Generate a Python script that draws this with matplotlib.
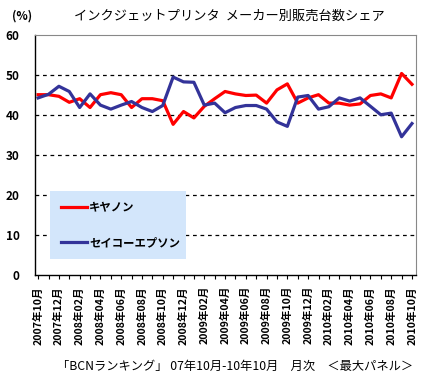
import matplotlib.pyplot as plt

plt.rcParams['font.family'] = ['Noto Sans CJK JP', 'DejaVu Sans']

# months 2007/10 .. 2010/10
months = []
for y in range(2007, 2011):
    for m in range(1, 13):
        if (y, m) >= (2007, 10) and (y, m) <= (2010, 10):
            months.append(f"{y}年{m:02d}月")

canon = [45.0, 45.0, 44.6, 43.1, 44.0, 41.8, 45.0, 45.5, 45.0, 41.8,
         44.0, 44.0, 43.5, 37.6, 40.8, 39.2, 42.1, 44.0, 45.8, 45.2,
         44.8, 44.9, 42.9, 46.2, 47.7, 42.9, 44.2, 45.0, 42.9, 42.9,
         42.4, 42.7, 44.8, 45.2, 44.2, 50.3, 47.6]
epson = [44.2, 45.1, 47.1, 45.8, 41.8, 45.2, 42.4, 41.4, 42.4, 43.3,
         41.8, 40.8, 42.3, 49.4, 48.2, 48.1, 42.4, 42.9, 40.5, 41.8,
         42.3, 42.3, 41.4, 38.2, 37.1, 44.4, 44.8, 41.4, 42.0, 44.2,
         43.4, 44.2, 42.1, 40.0, 40.4, 34.5, 37.8]
series_names = ['キヤノン', 'セイコーエプソン']

fig = plt.figure(figsize=(4.46, 3.76), dpi=100)
ax = fig.add_axes([0.0785, 0.2686, 0.8545, 0.6394])

x = list(range(len(months)))
ax.plot(x, canon, color='#FF0000', lw=2.3, label=series_names[0])
ax.plot(x, epson, color='#333399', lw=2.3, label=series_names[1])

ax.set_xlim(-0.3, len(months) - 1 + 0.4)
ax.set_ylim(0, 60)
ax.set_yticks(range(0, 61, 10))
for v in range(10, 60, 10):
    ax.axhline(v, color='black', lw=0.9, ls=(0, (3, 3)), zorder=0)

ax.set_xticks(x, minor=True)
ax.set_xticks(x[::2])
ax.set_xticklabels(months[::2], rotation=90, fontsize=7.6, fontweight='bold')
ax.tick_params(axis='x', which='both', direction='out', length=3, width=0.8, pad=5)
ax.tick_params(axis='y', length=0, pad=11, labelsize=8.5)
for t in ax.get_yticklabels():
    t.set_fontweight('bold')

for s in ['top', 'right']:
    ax.spines[s].set_color('#888888')
for s in ['left', 'bottom']:
    ax.spines[s].set_color('black')
    ax.spines[s].set_linewidth(1.0)

leg = ax.legend(loc='lower left', bbox_to_anchor=(0.04, 0.066, 0.356, 0.29),
                mode='expand', borderaxespad=0,
                prop={'size': 8.2, 'weight': 'bold'}, labelspacing=1.9,
                borderpad=0.9, handlelength=2.3, handletextpad=0.2,
                fancybox=False, framealpha=1)
leg.get_frame().set_facecolor('#D3E6FB')
leg.get_frame().set_linewidth(0)

fig.text(0.027, 0.958, '(%)', fontsize=8.5, fontweight='bold', ha='left', va='center')
fig.text(0.514, 0.958, 'インクジェットプリンタ  メーカー別販売台数シェア',
         fontsize=9.5, ha='center', va='center')
fig.text(0.527, 0.025, '「BCNランキング」 07年10月-10年10月　月次　＜最大パネル＞',
         fontsize=8.8, ha='center', va='center')

fig.savefig('out.png', dpi=100)
